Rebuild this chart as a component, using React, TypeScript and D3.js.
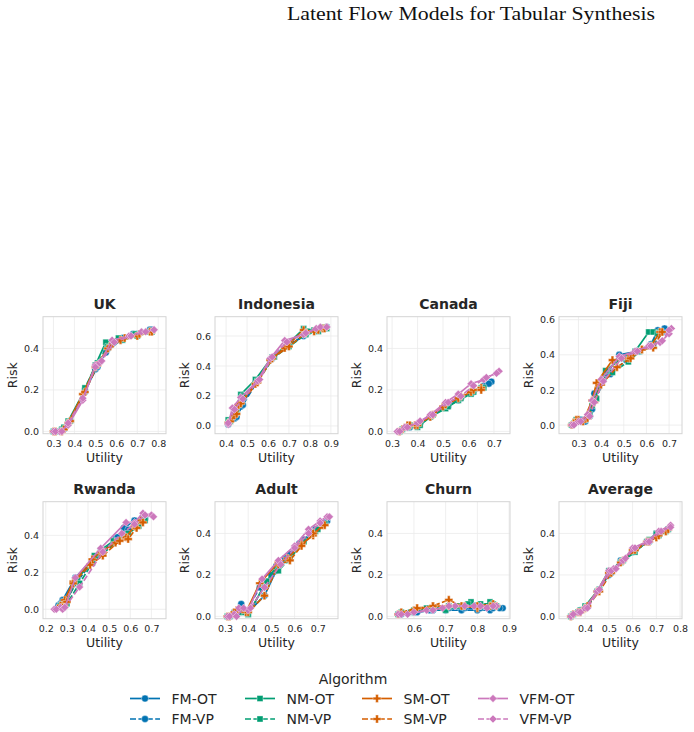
import React, { useEffect, useRef } from 'react';
import * as d3 from 'd3';

type Pt = [number, number];

const ALGORITHMS = ['FM-OT', 'FM-VP', 'NM-OT', 'NM-VP', 'SM-OT', 'SM-VP', 'VFM-OT', 'VFM-VP'];
const FAMILIES = ['FM', 'NM', 'SM', 'VFM'];
const FAMILY_COLORS: Record<string, string> = {
  FM: '#0173b2',
  NM: '#029e73',
  SM: '#d55e00',
  VFM: '#cc78bc',
};

// [utility, risk] points, one list per algorithm (same order as ALGORITHMS)
const UK: Pt[][] = [
  [[0.30, 0.00], [0.34, 0.01], [0.37, 0.04], [0.45, 0.19], [0.50, 0.30], [0.55, 0.38], [0.62, 0.44], [0.68, 0.47], [0.76, 0.49]],
  [[0.31, 0.00], [0.35, 0.01], [0.38, 0.05], [0.45, 0.20], [0.51, 0.31], [0.56, 0.40], [0.63, 0.45], [0.70, 0.47], [0.77, 0.49]],
  [[0.30, 0.00], [0.34, 0.01], [0.37, 0.05], [0.45, 0.20], [0.50, 0.32], [0.55, 0.43], [0.61, 0.45], [0.69, 0.47], [0.76, 0.48]],
  [[0.31, 0.00], [0.35, 0.02], [0.38, 0.05], [0.45, 0.21], [0.51, 0.33], [0.56, 0.41], [0.63, 0.44], [0.70, 0.46], [0.77, 0.48]],
  [[0.30, 0.00], [0.34, 0.00], [0.37, 0.04], [0.44, 0.18], [0.50, 0.31], [0.56, 0.40], [0.62, 0.44], [0.70, 0.46], [0.76, 0.48]],
  [[0.31, 0.00], [0.35, 0.01], [0.38, 0.05], [0.45, 0.19], [0.51, 0.32], [0.57, 0.41], [0.64, 0.45], [0.71, 0.47], [0.77, 0.48]],
  [[0.30, 0.00], [0.33, 0.00], [0.37, 0.03], [0.44, 0.15], [0.50, 0.32], [0.52, 0.33], [0.58, 0.44], [0.66, 0.46], [0.72, 0.48], [0.78, 0.49]],
  [[0.31, 0.00], [0.34, 0.00], [0.37, 0.04], [0.44, 0.16], [0.50, 0.31], [0.53, 0.34], [0.59, 0.43], [0.67, 0.46], [0.74, 0.48], [0.78, 0.49]],
];

const INDONESIA: Pt[][] = [
  [[0.41, 0.01], [0.44, 0.05], [0.47, 0.13], [0.54, 0.29], [0.61, 0.44], [0.69, 0.53], [0.77, 0.60], [0.83, 0.64], [0.87, 0.65]],
  [[0.41, 0.02], [0.45, 0.06], [0.48, 0.14], [0.55, 0.30], [0.62, 0.45], [0.70, 0.54], [0.78, 0.61], [0.84, 0.64], [0.88, 0.66]],
  [[0.41, 0.04], [0.44, 0.10], [0.47, 0.21], [0.54, 0.31], [0.62, 0.46], [0.69, 0.54], [0.77, 0.65], [0.82, 0.64], [0.87, 0.66]],
  [[0.42, 0.03], [0.45, 0.09], [0.48, 0.20], [0.55, 0.30], [0.63, 0.46], [0.70, 0.53], [0.78, 0.61], [0.84, 0.63], [0.88, 0.65]],
  [[0.41, 0.02], [0.44, 0.07], [0.46, 0.14], [0.54, 0.28], [0.61, 0.44], [0.68, 0.52], [0.77, 0.64], [0.82, 0.63], [0.86, 0.65]],
  [[0.42, 0.03], [0.45, 0.08], [0.47, 0.15], [0.55, 0.29], [0.62, 0.45], [0.70, 0.53], [0.78, 0.62], [0.84, 0.64], [0.87, 0.65]],
  [[0.41, 0.01], [0.43, 0.12], [0.47, 0.19], [0.55, 0.30], [0.61, 0.45], [0.68, 0.57], [0.77, 0.61], [0.83, 0.65], [0.88, 0.66]],
  [[0.41, 0.02], [0.44, 0.11], [0.48, 0.18], [0.56, 0.31], [0.62, 0.46], [0.69, 0.56], [0.78, 0.62], [0.85, 0.66], [0.88, 0.66]],
];

const CANADA: Pt[][] = [
  [[0.33, 0.00], [0.36, 0.02], [0.40, 0.03], [0.45, 0.07], [0.51, 0.12], [0.56, 0.15], [0.61, 0.19], [0.66, 0.22], [0.69, 0.24]],
  [[0.34, 0.01], [0.37, 0.02], [0.41, 0.04], [0.46, 0.08], [0.52, 0.12], [0.57, 0.16], [0.62, 0.19], [0.68, 0.23]],
  [[0.33, 0.00], [0.36, 0.02], [0.40, 0.02], [0.45, 0.07], [0.51, 0.11], [0.56, 0.15], [0.61, 0.18], [0.65, 0.21]],
  [[0.34, 0.01], [0.37, 0.03], [0.41, 0.03], [0.46, 0.08], [0.52, 0.12], [0.57, 0.16], [0.62, 0.19], [0.66, 0.21]],
  [[0.33, 0.00], [0.36, 0.03], [0.39, 0.03], [0.45, 0.07], [0.50, 0.12], [0.56, 0.16], [0.61, 0.19], [0.65, 0.21]],
  [[0.34, 0.01], [0.37, 0.03], [0.40, 0.03], [0.46, 0.08], [0.51, 0.13], [0.57, 0.17], [0.62, 0.20], [0.65, 0.20]],
  [[0.32, 0.00], [0.35, 0.02], [0.40, 0.04], [0.45, 0.08], [0.51, 0.14], [0.56, 0.18], [0.61, 0.23], [0.66, 0.25], [0.72, 0.29]],
  [[0.33, 0.00], [0.36, 0.02], [0.41, 0.05], [0.46, 0.08], [0.52, 0.14], [0.57, 0.17], [0.62, 0.22], [0.67, 0.26], [0.71, 0.28]],
];

const FIJI: Pt[][] = [
  [[0.27, 0.00], [0.30, 0.03], [0.33, 0.02], [0.36, 0.09], [0.37, 0.18], [0.41, 0.26], [0.48, 0.40], [0.56, 0.42], [0.62, 0.46], [0.65, 0.54], [0.68, 0.55]],
  [[0.28, 0.01], [0.31, 0.03], [0.35, 0.05], [0.37, 0.14], [0.40, 0.24], [0.44, 0.29], [0.51, 0.37], [0.57, 0.42], [0.63, 0.45], [0.67, 0.53]],
  [[0.27, 0.00], [0.29, 0.03], [0.33, 0.03], [0.36, 0.11], [0.39, 0.22], [0.42, 0.31], [0.49, 0.38], [0.55, 0.42], [0.61, 0.53], [0.63, 0.53], [0.66, 0.53]],
  [[0.28, 0.01], [0.31, 0.02], [0.35, 0.06], [0.38, 0.15], [0.41, 0.26], [0.45, 0.30], [0.52, 0.36], [0.57, 0.42], [0.62, 0.45], [0.65, 0.52]],
  [[0.27, 0.00], [0.29, 0.03], [0.32, 0.02], [0.36, 0.14], [0.38, 0.24], [0.45, 0.37], [0.52, 0.38], [0.58, 0.43], [0.62, 0.45], [0.66, 0.53]],
  [[0.28, 0.01], [0.30, 0.03], [0.34, 0.04], [0.37, 0.13], [0.40, 0.23], [0.47, 0.33], [0.53, 0.38], [0.58, 0.43], [0.63, 0.44], [0.67, 0.53]],
  [[0.27, 0.00], [0.30, 0.02], [0.34, 0.06], [0.36, 0.14], [0.40, 0.26], [0.48, 0.39], [0.55, 0.42], [0.61, 0.45], [0.66, 0.47], [0.70, 0.52], [0.71, 0.55]],
  [[0.28, 0.00], [0.31, 0.02], [0.35, 0.05], [0.37, 0.13], [0.41, 0.25], [0.49, 0.38], [0.56, 0.42], [0.62, 0.45], [0.67, 0.48], [0.70, 0.54]],
];

const RWANDA: Pt[][] = [
  [[0.27, 0.03], [0.28, 0.05], [0.34, 0.17], [0.43, 0.28], [0.46, 0.30], [0.53, 0.38], [0.57, 0.44], [0.62, 0.48], [0.66, 0.50]],
  [[0.26, 0.02], [0.29, 0.04], [0.35, 0.15], [0.42, 0.26], [0.47, 0.31], [0.54, 0.39], [0.59, 0.43], [0.64, 0.47], [0.67, 0.49]],
  [[0.27, 0.02], [0.29, 0.03], [0.35, 0.16], [0.43, 0.29], [0.46, 0.32], [0.52, 0.37], [0.58, 0.40], [0.63, 0.45], [0.66, 0.49]],
  [[0.28, 0.02], [0.30, 0.03], [0.36, 0.14], [0.42, 0.25], [0.47, 0.30], [0.54, 0.37], [0.59, 0.41], [0.64, 0.45], [0.67, 0.48]],
  [[0.27, 0.02], [0.29, 0.05], [0.33, 0.15], [0.42, 0.27], [0.46, 0.31], [0.53, 0.36], [0.58, 0.39], [0.62, 0.45], [0.65, 0.48]],
  [[0.28, 0.01], [0.30, 0.04], [0.33, 0.14], [0.41, 0.24], [0.47, 0.29], [0.55, 0.37], [0.59, 0.38], [0.63, 0.44], [0.66, 0.47]],
  [[0.24, 0.00], [0.27, 0.01], [0.29, 0.01], [0.34, 0.17], [0.46, 0.33], [0.58, 0.47], [0.62, 0.47], [0.66, 0.52], [0.70, 0.51]],
  [[0.25, 0.00], [0.28, 0.00], [0.29, 0.01], [0.36, 0.12], [0.47, 0.31], [0.56, 0.41], [0.62, 0.46], [0.67, 0.51], [0.71, 0.50]],
];

const ADULT: Pt[][] = [
  [[0.31, 0.00], [0.34, 0.02], [0.37, 0.06], [0.40, 0.02], [0.47, 0.10], [0.52, 0.22], [0.58, 0.30], [0.64, 0.37], [0.69, 0.42], [0.74, 0.46]],
  [[0.32, 0.00], [0.35, 0.01], [0.39, 0.02], [0.45, 0.14], [0.50, 0.20], [0.56, 0.28], [0.62, 0.35], [0.68, 0.40], [0.73, 0.45]],
  [[0.31, 0.00], [0.35, 0.01], [0.40, 0.01], [0.47, 0.15], [0.52, 0.24], [0.57, 0.27], [0.63, 0.35], [0.69, 0.41], [0.72, 0.44]],
  [[0.32, 0.00], [0.36, 0.02], [0.40, 0.01], [0.48, 0.17], [0.53, 0.22], [0.58, 0.28], [0.64, 0.36], [0.70, 0.42], [0.73, 0.45]],
  [[0.31, 0.00], [0.34, 0.02], [0.39, 0.02], [0.45, 0.16], [0.53, 0.26], [0.57, 0.28], [0.63, 0.35], [0.68, 0.39], [0.72, 0.44]],
  [[0.32, 0.00], [0.35, 0.03], [0.40, 0.02], [0.47, 0.10], [0.53, 0.25], [0.58, 0.27], [0.63, 0.34], [0.68, 0.40], [0.73, 0.44]],
  [[0.31, 0.00], [0.34, 0.01], [0.36, 0.04], [0.40, 0.03], [0.46, 0.18], [0.53, 0.27], [0.60, 0.34], [0.66, 0.42], [0.71, 0.46], [0.74, 0.48]],
  [[0.32, 0.00], [0.35, 0.00], [0.38, 0.04], [0.41, 0.04], [0.47, 0.14], [0.54, 0.25], [0.60, 0.33], [0.66, 0.40], [0.71, 0.45], [0.75, 0.48]],
];

const CHURN: Pt[][] = [
  [[0.55, 0.01], [0.60, 0.02], [0.65, 0.03], [0.70, 0.03], [0.75, 0.03], [0.80, 0.03], [0.84, 0.03], [0.88, 0.04]],
  [[0.56, 0.01], [0.61, 0.02], [0.66, 0.03], [0.71, 0.04], [0.76, 0.04], [0.81, 0.04], [0.85, 0.04], [0.87, 0.04]],
  [[0.55, 0.01], [0.59, 0.02], [0.64, 0.04], [0.70, 0.03], [0.74, 0.05], [0.78, 0.07], [0.82, 0.05], [0.84, 0.07], [0.86, 0.05]],
  [[0.56, 0.02], [0.60, 0.03], [0.65, 0.04], [0.71, 0.05], [0.77, 0.06], [0.81, 0.06], [0.85, 0.06]],
  [[0.55, 0.01], [0.60, 0.03], [0.66, 0.05], [0.71, 0.05], [0.76, 0.05], [0.80, 0.04], [0.84, 0.05], [0.86, 0.05]],
  [[0.56, 0.02], [0.61, 0.04], [0.66, 0.05], [0.71, 0.08], [0.75, 0.05], [0.80, 0.05], [0.85, 0.06]],
  [[0.55, 0.01], [0.58, 0.01], [0.64, 0.03], [0.69, 0.04], [0.73, 0.05], [0.79, 0.05], [0.83, 0.04], [0.86, 0.05]],
  [[0.56, 0.01], [0.60, 0.02], [0.66, 0.03], [0.71, 0.05], [0.76, 0.05], [0.81, 0.05], [0.85, 0.05]],
];

const AVERAGE: Pt[][] = [
  [[0.34, 0.00], [0.37, 0.02], [0.40, 0.04], [0.45, 0.12], [0.50, 0.20], [0.55, 0.27], [0.60, 0.31], [0.66, 0.36], [0.70, 0.40], [0.75, 0.42]],
  [[0.35, 0.01], [0.38, 0.03], [0.41, 0.05], [0.46, 0.13], [0.51, 0.21], [0.56, 0.27], [0.61, 0.32], [0.67, 0.36], [0.71, 0.39], [0.75, 0.42]],
  [[0.34, 0.00], [0.37, 0.02], [0.40, 0.05], [0.45, 0.12], [0.50, 0.22], [0.55, 0.26], [0.61, 0.31], [0.66, 0.36], [0.70, 0.40], [0.74, 0.41]],
  [[0.35, 0.01], [0.38, 0.03], [0.41, 0.05], [0.46, 0.13], [0.51, 0.22], [0.56, 0.27], [0.61, 0.32], [0.67, 0.37], [0.71, 0.39], [0.75, 0.42]],
  [[0.34, 0.00], [0.37, 0.02], [0.40, 0.04], [0.45, 0.12], [0.50, 0.21], [0.55, 0.26], [0.60, 0.32], [0.66, 0.36], [0.70, 0.38], [0.74, 0.41]],
  [[0.35, 0.01], [0.38, 0.02], [0.41, 0.05], [0.46, 0.12], [0.51, 0.21], [0.56, 0.27], [0.61, 0.32], [0.67, 0.36], [0.71, 0.39], [0.75, 0.42]],
  [[0.34, 0.00], [0.37, 0.02], [0.40, 0.04], [0.45, 0.12], [0.50, 0.22], [0.52, 0.23], [0.56, 0.27], [0.60, 0.33], [0.66, 0.36], [0.71, 0.41], [0.76, 0.44]],
  [[0.35, 0.01], [0.38, 0.02], [0.41, 0.04], [0.46, 0.13], [0.51, 0.22], [0.53, 0.23], [0.57, 0.28], [0.61, 0.33], [0.67, 0.36], [0.72, 0.41], [0.76, 0.43]],
];

const PANELS = [
  { name: 'UK', data: UK, x: [0.25, 0.837], y: [-0.011, 0.553], xTicks: [0.3, 0.4, 0.5, 0.6, 0.7, 0.8], yTicks: [0, 0.2, 0.4] },
  { name: 'Indonesia', data: INDONESIA, x: [0.347, 0.934], y: [-0.052, 0.729], xTicks: [0.4, 0.5, 0.6, 0.7, 0.8, 0.9], yTicks: [0, 0.2, 0.4, 0.6] },
  { name: 'Canada', data: CANADA, x: [0.28, 0.763], y: [-0.011, 0.553], xTicks: [0.3, 0.4, 0.5, 0.6, 0.7], yTicks: [0, 0.2, 0.4] },
  { name: 'Fiji', data: FIJI, x: [0.214, 0.757], y: [-0.049, 0.617], xTicks: [0.3, 0.4, 0.5, 0.6, 0.7], yTicks: [0, 0.2, 0.4, 0.6] },
  { name: 'Rwanda', data: RWANDA, x: [0.187, 0.769], y: [-0.051, 0.582], xTicks: [0.2, 0.3, 0.4, 0.5, 0.6, 0.7], yTicks: [0, 0.2, 0.4] },
  { name: 'Adult', data: ADULT, x: [0.257, 0.787], y: [-0.011, 0.553], xTicks: [0.3, 0.4, 0.5, 0.6, 0.7], yTicks: [0, 0.2, 0.4] },
  { name: 'Churn', data: CHURN, x: [0.515, 0.903], y: [-0.011, 0.553], xTicks: [0.6, 0.7, 0.8, 0.9], yTicks: [0, 0.2, 0.4] },
  { name: 'Average', data: AVERAGE, x: [0.29, 0.808], y: [-0.011, 0.553], xTicks: [0.4, 0.5, 0.6, 0.7, 0.8], yTicks: [0, 0.2, 0.4] },
];

const W = 694;
const H = 732;
const FONT = '"DejaVu Sans", sans-serif';
const TEXT = '#262626';

const markerPath = (family: string) => {
  switch (family) {
    case 'FM':
      return d3.symbol().type(d3.symbolCircle).size(38)();
    case 'NM':
      return d3.symbol().type(d3.symbolSquare).size(36)();
    case 'SM':
      return d3.symbol().type(d3.symbolCross).size(36)();
    default:
      return d3.symbol().type(d3.symbolSquare).size(32)();
  }
};

const App = () => {
  const ref = useRef<SVGSVGElement>(null);

  useEffect(() => {
    const svg = d3.select(ref.current);
    svg.selectAll('*').remove();

    svg.append('text')
      .attr('x', 471)
      .attr('y', 20)
      .attr('text-anchor', 'middle')
      .attr('font-family', '"Liberation Serif", serif')
      .attr('font-size', 19)
      .attr('textLength', 368)
      .attr('lengthAdjust', 'spacingAndGlyphs')
      .attr('fill', '#111')
      .text('Latent Flow Models for Tabular Synthesis');

    const pw = 123;
    const ph = 117;

    PANELS.forEach((p, pi) => {
      const col = pi % 4;
      const row = Math.floor(pi / 4);
      const left = 43 + col * 172;
      const top = row === 0 ? 316.7 : 501.7;
      const g = svg.append('g').attr('transform', `translate(${left},${top})`);

      const x = d3.scaleLinear().domain(p.x).range([0, pw]);
      const y = d3.scaleLinear().domain(p.y).range([ph, 0]);

      // grid
      g.append('g')
        .selectAll('line')
        .data(p.xTicks)
        .join('line')
        .attr('x1', d => x(d)).attr('x2', d => x(d))
        .attr('y1', 0).attr('y2', ph)
        .attr('stroke', '#ebebeb').attr('stroke-width', 0.8);
      g.append('g')
        .selectAll('line')
        .data(p.yTicks)
        .join('line')
        .attr('x1', 0).attr('x2', pw)
        .attr('y1', d => y(d)).attr('y2', d => y(d))
        .attr('stroke', '#ebebeb').attr('stroke-width', 0.8);

      g.append('rect')
        .attr('width', pw).attr('height', ph)
        .attr('fill', 'none').attr('stroke', '#d4d4d4').attr('stroke-width', 1);

      const xAxis = g.append('g')
        .attr('transform', `translate(0,${ph})`)
        .call(d3.axisBottom(x).tickValues(p.xTicks).tickSize(0).tickPadding(6.3).tickFormat(d3.format('.1f')));
      const yAxis = g.append('g')
        .call(d3.axisLeft(y).tickValues(p.yTicks).tickSize(0).tickPadding(4).tickFormat(d3.format('.1f')));
      [xAxis, yAxis].forEach(a => {
        a.select('.domain').remove();
        a.selectAll('text').attr('font-family', FONT).attr('font-size', 9.5).attr('fill', TEXT);
      });

      g.append('text')
        .attr('x', pw / 2).attr('y', -8)
        .attr('text-anchor', 'middle')
        .attr('font-family', FONT).attr('font-size', 14).attr('font-weight', 'bold')
        .attr('fill', TEXT)
        .text(p.name);

      g.append('text')
        .attr('x', pw / 2).attr('y', ph + 28.5)
        .attr('text-anchor', 'middle')
        .attr('font-family', FONT).attr('font-size', 12.5).attr('fill', TEXT)
        .text('Utility');

      g.append('text')
        .attr('transform', `translate(-30.5,${ph / 2}) rotate(-90)`)
        .attr('text-anchor', 'middle')
        .attr('dy', '0.35em')
        .attr('font-family', FONT).attr('font-size', 12.5).attr('fill', TEXT)
        .text('Risk');

      const line = d3.line<Pt>().x(d => x(d[0])).y(d => y(d[1]));

      p.data.forEach((series, si) => {
        const alg = ALGORITHMS[si];
        const family = alg.split('-')[0];
        const color = FAMILY_COLORS[family];
        const dashed = alg.endsWith('VP');

        g.append('path')
          .datum(series)
          .attr('fill', 'none')
          .attr('stroke', color)
          .attr('stroke-width', 1.7)
          .attr('stroke-dasharray', dashed ? '6,2.4' : null)
          .attr('d', line);

        g.append('g')
          .selectAll('path')
          .data(series)
          .join('path')
          .attr('transform', d => `translate(${x(d[0])},${y(d[1])})${family === 'VFM' ? ' rotate(45)' : ''}`)
          .attr('d', markerPath(family))
          .attr('fill', color)
          .attr('stroke', '#fff')
          .attr('stroke-width', 0.4);
      });
    });

    // legend
    const legend = svg.append('g');
    legend.append('text')
      .attr('x', 353).attr('y', 684)
      .attr('text-anchor', 'middle')
      .attr('font-family', FONT).attr('font-size', 14).attr('fill', TEXT)
      .text('Algorithm');

    const colX = [130, 245, 362, 478];
    const rowY = [698.5, 719];
    FAMILIES.forEach((family, fi) => {
      ['OT', 'VP'].forEach((kind, ki) => {
        const lx = colX[fi];
        const ly = rowY[ki];
        const color = FAMILY_COLORS[family];
        legend.append('line')
          .attr('x1', lx).attr('x2', lx + 30)
          .attr('y1', ly).attr('y2', ly)
          .attr('stroke', color).attr('stroke-width', 1.7)
          .attr('stroke-dasharray', kind === 'VP' ? '6,2.4' : null);
        legend.append('path')
          .attr('transform', `translate(${lx + 15},${ly})${family === 'VFM' ? ' rotate(45)' : ''}`)
          .attr('d', markerPath(family))
          .attr('fill', color)
          .attr('stroke', '#fff')
          .attr('stroke-width', 0.4);
        legend.append('text')
          .attr('x', lx + 41.5).attr('y', ly)
          .attr('dy', '0.36em')
          .attr('font-family', FONT).attr('font-size', 14).attr('fill', TEXT)
          .text(`${family}-${kind}`);
      });
    });
  }, []);

  return (
    <svg
      ref={ref}
      width={W}
      height={H}
      style={{ position: 'absolute', left: 0, top: 0, background: '#fff' }}
    />
  );
};

export default App;
